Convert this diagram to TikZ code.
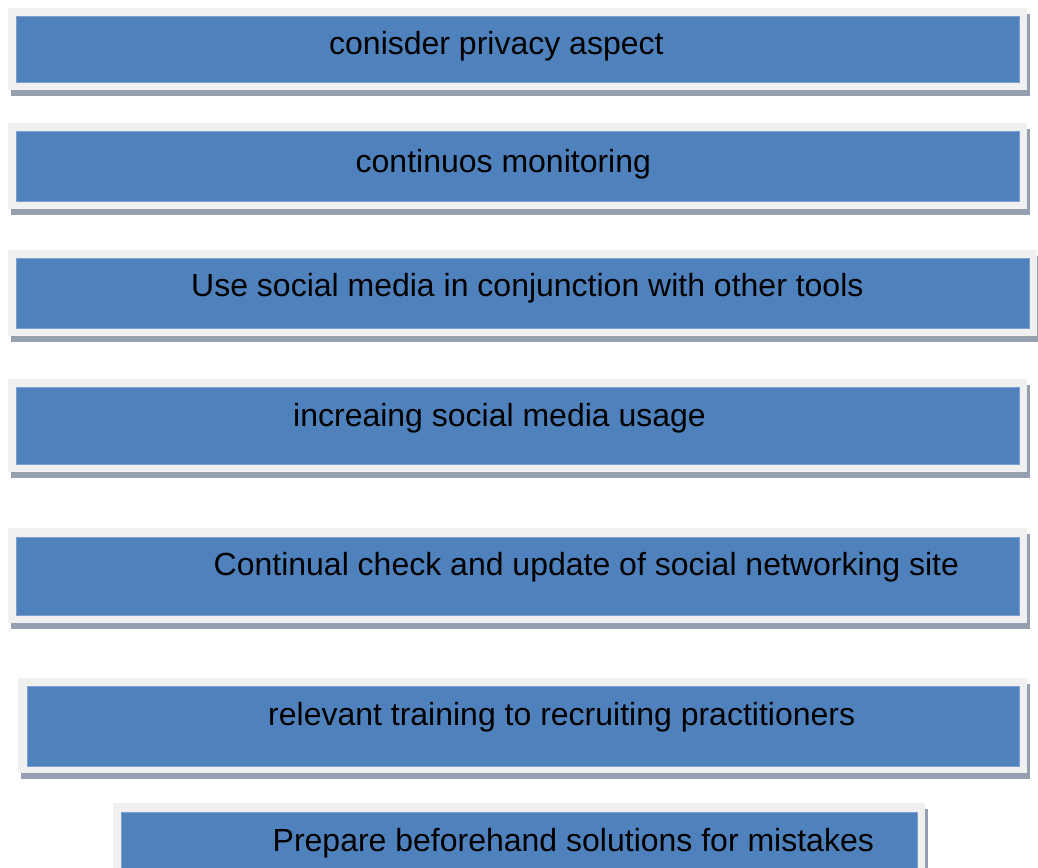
\documentclass[tikz,border=0pt]{standalone}
\usepackage{fontspec}
\setmainfont{Liberation Sans}
\definecolor{boxblue}{HTML}{4F81BD}
\definecolor{boxedge}{HTML}{7DA0CF}
\definecolor{frame}{HTML}{F0F0F0}
\definecolor{shadowc}{HTML}{949FB0}
\tikzset{
  shadowfill/.style={fill=shadowc},
  framefill/.style={fill=frame},
  bluefill/.style={fill=boxblue, draw=boxedge, line width=0.8pt},
  label/.style={anchor=base west, inner sep=0pt, text=black,
    font=\fontsize{32}{38}\selectfont}
}
\newcommand{\mybox}[9]{%
  % #1 name, #2-#5 outer x1 y1 x2 y2, #6-#9 blue x1 y1 x2 y2
  \fill[shadowfill] (#2+3,#3+6) rectangle (#4+3,#5+6);
  \fill[framefill] (#2,#3) rectangle (#4,#5);
  \filldraw[bluefill] (#6,#7) rectangle (#8,#9);
}
\begin{document}
\begin{tikzpicture}[x=1pt,y=-1pt]
\useasboundingbox (0,0) rectangle (1038,867);
\mybox{b1}{8}{8}{1027}{90}{16}{16}{1019}{82}
\mybox{b2}{8}{123}{1027}{209}{16}{131}{1019}{201}
\mybox{b3}{8}{250}{1037}{336}{16}{258}{1029}{328}
\mybox{b4}{8}{379}{1027}{472}{16}{387}{1019}{464}
\mybox{b5}{8}{528}{1027}{623}{16}{537}{1019}{615}
\mybox{b6}{18}{678}{1027}{773}{27}{686}{1019}{766}
\mybox{b7}{113}{803}{925}{885}{121}{812}{917}{878}
\node[label] (t1) at (329,55) {conisder privacy aspect};
\node[label] (t2) at (355.5,172) {continuos monitoring};
\node[label] (t3) at (191,296.5) {Use social media in conjunction with other tools};
\node[label] (t4) at (293,426.5) {increaing social media usage};
\node[label] (t5) at (213.5,575.5) {Continual check and update of social networking site};
\node[label] (t6) at (268,725) {relevant training to recruiting practitioners};
\node[label] (t7) at (272.5,851.5) {Prepare beforehand solutions for mistakes};
\end{tikzpicture}
\end{document}
